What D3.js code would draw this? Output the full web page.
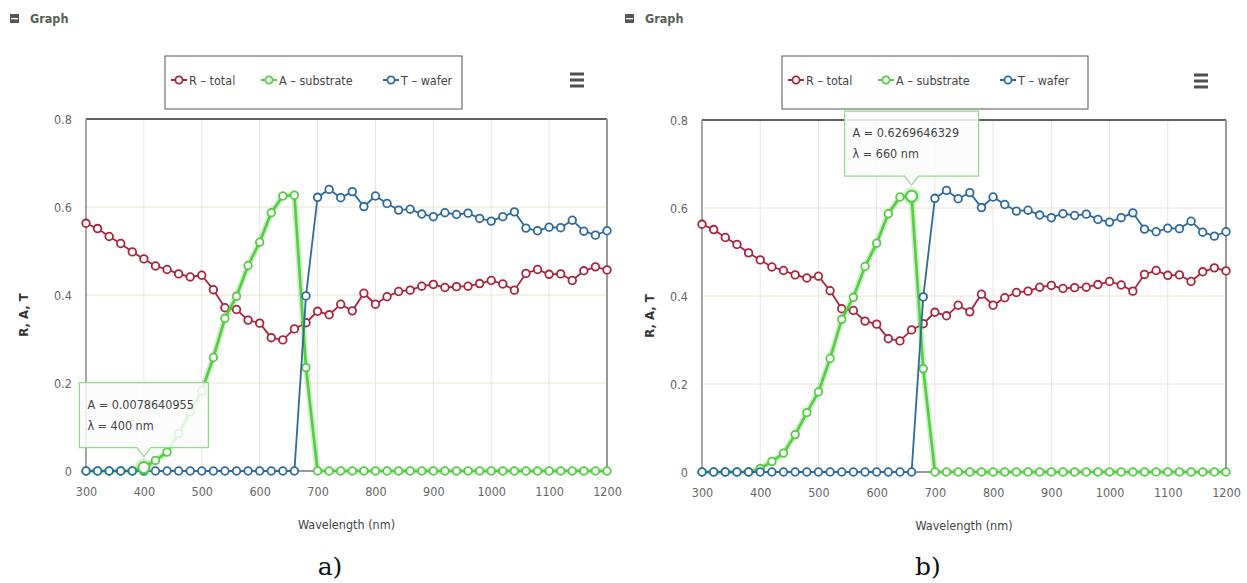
<!DOCTYPE html>
<html>
<head>
<meta charset="utf-8">
<script src="https://cdn.jsdelivr.net/npm/d3@7"></script>
<style>
  body { margin: 0; background: #fff; }
  svg text { font-family: "Liberation Sans Narrow", "DejaVu Sans Condensed", "Open Sans", sans-serif; }
  .tick text { fill: #666; font-size: 12.5px; }
  .caption { font-family: "DejaVu Serif", "Liberation Serif", serif !important; font-size: 25px; fill: #111; }
</style>
</head>
<body>
<svg id="fig" width="1247" height="583"></svg>
<script>
// data (both panels show the same spectra)
const wavelengths = [300, 320, 340, 360, 380, 400, 420, 440, 460, 480, 500, 520, 540, 560, 580, 600, 620, 640, 660, 680,
  700, 720, 740, 760, 780, 800, 820, 840, 860, 880, 900, 920, 940, 960, 980, 1000, 1020, 1040, 1060, 1080, 1100,
  1120, 1140, 1160, 1180, 1200];
const rTotal = [0.563, 0.551, 0.533, 0.517, 0.498, 0.482, 0.466, 0.458, 0.448, 0.441, 0.445, 0.412, 0.371, 0.367,
  0.343, 0.336, 0.303, 0.298, 0.323, 0.337, 0.363, 0.355, 0.379, 0.364, 0.404, 0.379, 0.396, 0.408, 0.411, 0.420,
  0.424, 0.417, 0.419, 0.420, 0.426, 0.433, 0.425, 0.411, 0.449, 0.458, 0.447, 0.448, 0.433, 0.455, 0.464, 0.457];
const aSubstrate = [0, 0, 0, 0, 0, 0.0078640955, 0.024, 0.043, 0.085, 0.135, 0.182, 0.258, 0.347, 0.397, 0.467, 0.520,
  0.587, 0.625, 0.6269646329, 0.235, 0, 0, 0, 0, 0, 0, 0, 0, 0, 0, 0, 0, 0, 0, 0, 0, 0, 0, 0, 0, 0, 0, 0, 0, 0, 0];
const tWafer = [0, 0, 0, 0, 0, 0, 0, 0, 0, 0, 0, 0, 0, 0, 0, 0, 0, 0, 0, 0.398, 0.622, 0.640, 0.621, 0.635, 0.601,
  0.625, 0.608, 0.593, 0.595, 0.584, 0.578, 0.587, 0.583, 0.586, 0.574, 0.568, 0.578, 0.589, 0.552, 0.546, 0.554,
  0.553, 0.570, 0.545, 0.536, 0.546];
const xTicks = [300, 400, 500, 600, 700, 800, 900, 1000, 1100, 1200];
const yTicks = [0, 0.2, 0.4, 0.6, 0.8];
const seriesNames = ['R - total', 'A - substrate', 'T - wafer'];
const seriesColors = ['#a9243c', '#55cc44', '#2e6a9e'];

const series = [rTotal, aSubstrate, tWafer].map((vals, i) => ({
  name: seriesNames[i], color: seriesColors[i], short: seriesNames[i][0],
  points: vals.map((v, j) => ({x: wavelengths[j], y: v}))
}));

const panels = [
  {plot: [86, 607, 119, 471], legend: [165, 56, 297, 53], menu: [577, 80], header: [10, 14], yTitle: 24,
   caption: ['a)', 330], hover: 5, tipW: 129},
  {plot: [702, 1226, 120, 472], legend: [782, 56, 306, 53], menu: [1201, 81], header: [625, 14], yTitle: 650,
   caption: ['b)', 928], hover: 18, tipW: 134}
];

const svg = d3.select('#fig');

function drawPanel(p) {
  const [x0, x1, y0, y1] = p.plot;
  const g = svg.append('g');
  const x = d3.scaleLinear().domain([300, 1200]).range([x0, x1]);
  const y = d3.scaleLinear().domain([0, 0.8]).range([y1, y0]);

  // header
  const [hx, hy] = p.header;
  g.append('rect').attr('x', hx).attr('y', hy).attr('width', 9).attr('height', 9).attr('fill', '#555');
  g.append('rect').attr('x', hx + 1).attr('y', hy + 4).attr('width', 7).attr('height', 1.3).attr('fill', '#fff');
  g.append('text').attr('x', hx + 20).attr('y', hy + 9).attr('font-size', 12.5).attr('font-weight', 'bold')
    .attr('fill', '#5a5f55').text('Graph');

  // grid
  g.append('g').selectAll('line').data(xTicks.slice(1, -1)).join('line')
    .attr('x1', d => x(d)).attr('x2', d => x(d)).attr('y1', y0).attr('y2', y1)
    .attr('stroke', '#e6e6e6').attr('stroke-width', 1);
  g.append('g').selectAll('line').data(yTicks.slice(1, -1)).join('line')
    .attr('x1', x0).attr('x2', x1).attr('y1', d => y(d)).attr('y2', d => y(d))
    .attr('stroke', '#e7e6cf').attr('stroke-width', 1);

  // frame
  g.append('line').attr('x1', x0).attr('x2', x1).attr('y1', y0).attr('y2', y0).attr('stroke', '#5e625c').attr('stroke-width', 2);
  g.append('line').attr('x1', x0).attr('x2', x0).attr('y1', y0).attr('y2', y1).attr('stroke', '#8a8a8a').attr('stroke-width', 1.5);
  g.append('line').attr('x1', x1).attr('x2', x1).attr('y1', y0).attr('y2', y1).attr('stroke', '#999').attr('stroke-width', 2);
  g.append('line').attr('x1', x0).attr('x2', x1).attr('y1', y1).attr('y2', y1).attr('stroke', '#333').attr('stroke-width', 1.2);

  // axes
  const xa = g.append('g').attr('transform', `translate(0,${y1})`)
    .call(d3.axisBottom(x).tickValues(xTicks).tickSize(0).tickPadding(16).tickFormat(d3.format('d')));
  xa.select('.domain').remove();
  const ya = g.append('g').attr('transform', `translate(${x0},0)`)
    .call(d3.axisLeft(y).tickValues(yTicks).tickSize(0).tickPadding(14).tickFormat(d => d === 0 ? '0' : String(d)));
  ya.select('.domain').remove();

  g.append('text').attr('x', (x0 + x1) / 2).attr('y', y1 + 58).attr('text-anchor', 'middle')
    .attr('font-size', 12.5).attr('fill', '#444').text('Wavelength (nm)');
  g.append('text').attr('transform', `translate(${p.yTitle + 4},${(y0 + y1) / 2 + 20}) rotate(-90)`)
    .attr('text-anchor', 'middle').attr('font-size', 13).attr('font-weight', 'bold').attr('fill', '#333')
    .text('R, A, T');

  // series
  const line = d3.line().x(d => x(d.x)).y(d => y(d.y));
  series.forEach((s, i) => {
    const sg = g.append('g');
    const hovered = i === 1;
    if (hovered) {
      sg.append('path').datum(s.points).attr('d', line).attr('fill', 'none')
        .attr('stroke', s.color).attr('stroke-opacity', 0.3).attr('stroke-width', 6);
    }
    sg.append('path').datum(s.points).attr('d', line).attr('fill', 'none')
      .attr('stroke', s.color).attr('stroke-width', hovered ? 2.6 : 1.8);
    sg.selectAll('circle').data(s.points).join('circle')
      .attr('cx', d => x(d.x)).attr('cy', d => y(d.y)).attr('r', 3.8)
      .attr('fill', '#fff').attr('stroke', s.color).attr('stroke-width', 1.8);
  });

  // hovered point + tooltip
  const hs = series[1];
  const hp = hs.points[p.hover];
  const px = x(hp.x), py = y(hp.y);
  g.append('circle').attr('cx', px).attr('cy', py).attr('r', 9).attr('fill', hs.color).attr('opacity', 0.25);
  g.append('circle').attr('cx', px).attr('cy', py).attr('r', 5.5)
    .attr('fill', '#fff').attr('stroke', hs.color).attr('stroke-width', 2);

  const tw = p.tipW, th = 65;
  const tx = px - tw / 2, ty = py - 20 - th;
  const tip = g.append('g');
  tip.append('path')
    .attr('d', `M${tx},${ty} h${tw} v${th} h${-(tw / 2 - 7)} l-7,9 l-7,-9 h${-(tw / 2 - 7)} Z`)
    .attr('fill', '#fbfbfb').attr('fill-opacity', 0.85).attr('stroke', '#8fd98a').attr('stroke-width', 1.2);
  tip.append('text').attr('x', tx + 8).attr('y', ty + 26).attr('font-size', 12.5).attr('fill', '#444')
    .text(`${hs.short} = ${hp.y}`);
  tip.append('text').attr('x', tx + 8).attr('y', ty + 47).attr('font-size', 12.5).attr('fill', '#444')
    .text(`λ = ${hp.x} nm`);

  // legend
  const [lx, ly, lw, lh] = p.legend;
  g.append('rect').attr('x', lx).attr('y', ly).attr('width', lw).attr('height', lh)
    .attr('fill', '#fff').attr('stroke', '#555').attr('stroke-width', 1);
  const offs = [14, 104, 226];
  series.forEach((s, i) => {
    const cx = lx + offs[i], cy = ly + 24;
    g.append('line').attr('x1', cx - 8).attr('x2', cx + 8).attr('y1', cy).attr('y2', cy)
      .attr('stroke', s.color).attr('stroke-width', 2);
    g.append('circle').attr('cx', cx).attr('cy', cy).attr('r', 3.6)
      .attr('fill', '#fff').attr('stroke', s.color).attr('stroke-width', 1.8);
    g.append('text').attr('x', cx + 10).attr('y', cy + 4.5).attr('font-size', 12.5).attr('fill', '#444')
      .text(s.name.replace('-', '–'));
  });

  // menu button
  const [mx, my] = p.menu;
  g.append('g').selectAll('rect').data([-6, 0, 6]).join('rect')
    .attr('x', mx - 7).attr('y', d => my + d - 1.5).attr('width', 14).attr('height', 3).attr('fill', '#505050');

  svg.append('text').attr('class', 'caption').attr('x', p.caption[1]).attr('y', 575)
    .attr('text-anchor', 'middle').text(p.caption[0]);
}

panels.forEach(drawPanel);
</script>
</body>
</html>
